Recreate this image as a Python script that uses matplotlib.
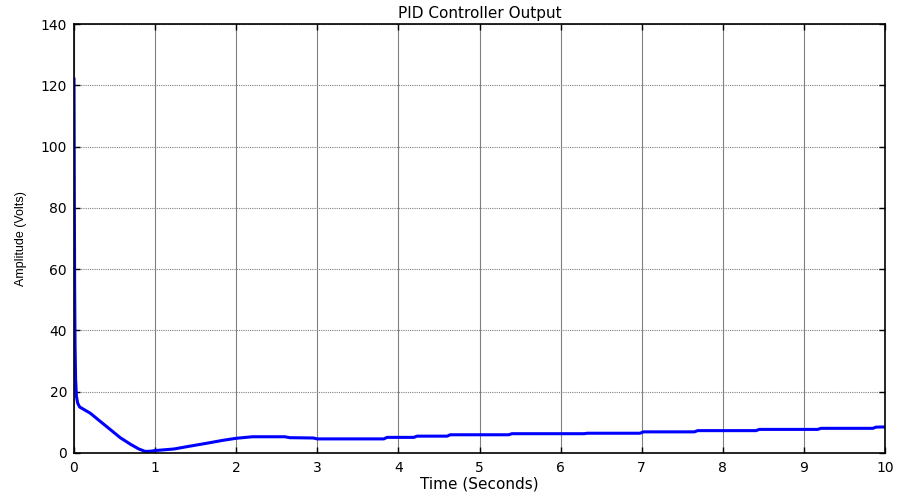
import matplotlib
matplotlib.use("Agg")
import matplotlib.pyplot as plt

# Data
time_s = [0.0, 0.004, 0.008, 0.013, 0.02, 0.03, 0.045, 0.07, 0.2, 0.32, 0.45, 0.57,
          0.7, 0.8, 0.88, 0.95, 1.0, 1.23, 1.4, 1.64, 1.85, 2.0, 2.2, 2.6, 2.66,
          2.95, 3.0, 3.82, 3.86, 4.19, 4.23, 4.6, 4.64, 5.36, 5.4, 6.29, 6.33,
          6.98, 7.02, 7.65, 7.69, 8.41, 8.45, 9.17, 9.21, 9.85, 9.89, 10.0]
amplitude = [122.0, 85.0, 55.0, 35.0, 24.0, 18.5, 16.3, 15.0, 13.0, 10.4, 7.6, 5.0,
             2.8, 1.3, 0.5, 0.6, 0.8, 1.3, 2.1, 3.2, 4.2, 4.8, 5.3, 5.3, 5.0,
             4.9, 4.6, 4.6, 5.1, 5.1, 5.5, 5.5, 5.95, 5.95, 6.3, 6.3, 6.45,
             6.45, 6.9, 6.9, 7.3, 7.3, 7.7, 7.7, 8.05, 8.05, 8.45, 8.5]

x_ticks = list(range(0, 11))
y_ticks = list(range(0, 141, 20))

plt.rcParams['font.family'] = ['DejaVu Sans']

fig = plt.figure(figsize=(8.98, 4.97), dpi=100)
ax = fig.add_axes([74/898, 44/497, 811/898, 429/497])

ax.plot(time_s, amplitude, color='#0000ff', lw=2.2, solid_joinstyle='round')

ax.set_xlim(0, 10)
ax.set_ylim(0, 140)
ax.set_xticks(x_ticks)
ax.set_yticks(y_ticks)

# MATLAB-style grid: vertical lines solid grey, horizontal dotted
ax.xaxis.grid(True, color='#808080', lw=0.8, ls='-')
ax.yaxis.grid(True, color='#808080', lw=0.8, ls=(0, (1, 1)))
ax.set_axisbelow(True)

ax.tick_params(direction='in', top=True, right=True, length=4, width=1,
               labelsize=10, colors='black')
ax.tick_params(axis='x', pad=6)
ax.tick_params(axis='y', pad=5)
for sp in ax.spines.values():
    sp.set_linewidth(1.2)
    sp.set_color('black')

ax.set_title('PID Controller Output', fontsize=11, pad=4)
ax.set_xlabel('Time (Seconds)', fontsize=11, labelpad=1)
ax.set_ylabel('Amplitude (Volts)', fontsize=9, labelpad=10,
              family=['Liberation Sans', 'DejaVu Sans'])

fig.savefig('out.png', dpi=100, facecolor='white')
